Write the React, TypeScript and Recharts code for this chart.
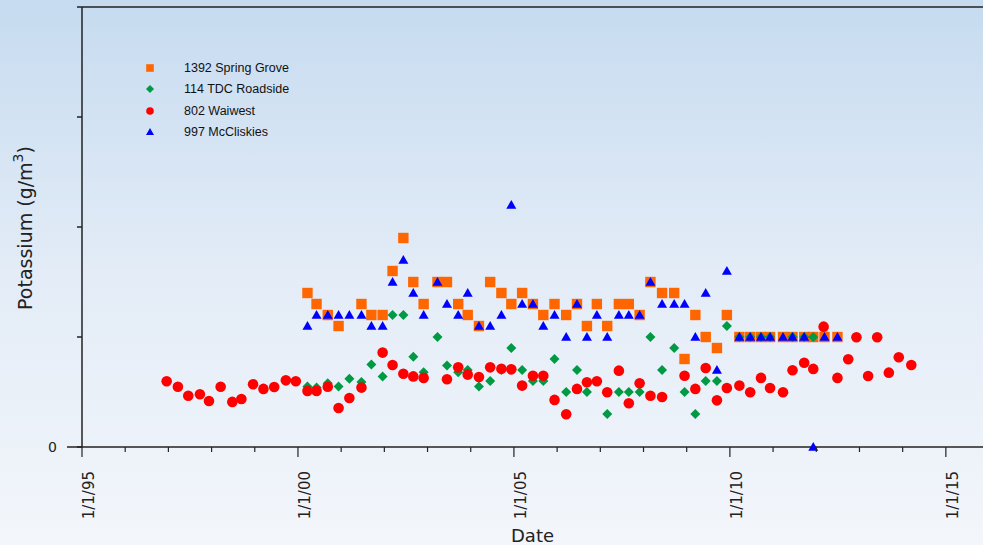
import { ScatterChart, Scatter, XAxis, YAxis, ReferenceLine } from "recharts";

// [decimal year, potassium g/m3]
const springGrove: [number, number][] = [
  [2000.22, 7.0], [2000.43, 6.5], [2000.69, 6.0], [2000.94, 5.5], [2001.47, 6.5],
  [2001.7, 6.0], [2001.96, 6.0], [2002.19, 8.0], [2002.44, 9.5], [2002.67, 7.5],
  [2002.91, 6.5], [2003.23, 7.5], [2003.45, 7.5], [2003.71, 6.5], [2003.93, 6.0],
  [2004.19, 5.5], [2004.45, 7.5], [2004.71, 7.0], [2004.94, 6.5], [2005.19, 7.0],
  [2005.44, 6.5], [2005.68, 6.0], [2005.94, 6.5], [2006.21, 6.0], [2006.46, 6.5],
  [2006.69, 5.5], [2006.92, 6.5], [2007.16, 5.5], [2007.43, 6.5], [2007.66, 6.5],
  [2007.91, 6.0], [2008.16, 7.5], [2008.43, 7.0], [2008.71, 7.0], [2008.95, 4.0],
  [2009.2, 6.0], [2009.44, 5.0], [2009.7, 4.5], [2009.93, 6.0], [2010.22, 5.0],
  [2010.47, 5.0], [2010.72, 5.0], [2010.93, 5.0], [2011.23, 5.0], [2011.45, 5.0],
  [2011.72, 5.0], [2011.93, 5.0], [2012.19, 5.0], [2012.49, 5.0],
];

const tdcRoadside: [number, number][] = [
  [2000.22, 2.75], [2000.43, 2.7], [2000.69, 2.9], [2000.94, 2.75], [2001.19, 3.1],
  [2001.47, 2.95], [2001.7, 3.75], [2001.96, 3.2], [2002.19, 6.0], [2002.44, 6.0],
  [2002.67, 4.1], [2002.91, 3.4], [2003.23, 5.0], [2003.45, 3.7], [2003.71, 3.4],
  [2003.93, 3.5], [2004.19, 2.75], [2004.45, 3.0], [2004.71, 3.5], [2004.94, 4.5],
  [2005.19, 3.5], [2005.44, 3.0], [2005.68, 3.0], [2005.94, 4.0], [2006.21, 2.5],
  [2006.46, 3.5], [2006.69, 2.5], [2007.16, 1.5], [2007.43, 2.5], [2007.66, 2.5],
  [2007.91, 2.5], [2008.16, 5.0], [2008.43, 3.5], [2008.71, 4.5], [2008.95, 2.5],
  [2009.2, 1.5], [2009.44, 3.0], [2009.7, 3.0], [2009.93, 5.5], [2010.22, 5.0],
  [2010.47, 5.0], [2010.72, 5.0], [2010.93, 5.0], [2011.45, 5.0], [2011.72, 5.0],
  [2011.93, 5.0],
];

const waiwest: [number, number][] = [
  [1996.96, 2.99], [1997.22, 2.74], [1997.46, 2.33], [1997.73, 2.4], [1997.94, 2.09],
  [1998.21, 2.74], [1998.48, 2.05], [1998.69, 2.18], [1998.96, 2.85], [1999.2, 2.64],
  [1999.45, 2.73], [1999.72, 3.03], [1999.95, 2.99], [2000.22, 2.55], [2000.43, 2.55],
  [2000.69, 2.74], [2000.94, 1.77], [2001.19, 2.23], [2001.47, 2.7], [2001.96, 4.29],
  [2002.19, 3.73], [2002.44, 3.33], [2002.67, 3.21], [2002.91, 3.14], [2003.45, 3.08],
  [2003.71, 3.62], [2003.93, 3.29], [2004.19, 3.18], [2004.45, 3.62], [2004.71, 3.56],
  [2004.94, 3.53], [2005.19, 2.79], [2005.44, 3.24], [2005.68, 3.24], [2005.94, 2.14],
  [2006.21, 1.49], [2006.46, 2.64], [2006.69, 2.94], [2006.92, 2.99], [2007.16, 2.49],
  [2007.43, 3.47], [2007.66, 1.99], [2007.91, 2.9], [2008.16, 2.33], [2008.43, 2.27],
  [2008.95, 3.24], [2009.2, 2.64], [2009.44, 3.59], [2009.7, 2.12], [2009.93, 2.68],
  [2010.22, 2.79], [2010.47, 2.49], [2010.72, 3.14], [2010.93, 2.68], [2011.23, 2.49],
  [2011.45, 3.49], [2011.72, 3.83], [2011.93, 3.55], [2012.17, 5.47], [2012.49, 3.14],
  [2012.74, 3.99], [2012.93, 4.99], [2013.2, 3.23], [2013.41, 4.99], [2013.68, 3.38],
  [2013.91, 4.08], [2014.2, 3.73],
];

const mcCliskies: [number, number][] = [
  [2000.22, 5.5], [2000.43, 6.0], [2000.69, 6.0], [2000.94, 6.0], [2001.19, 6.0],
  [2001.47, 6.0], [2001.7, 5.5], [2001.96, 5.5], [2002.19, 7.5], [2002.44, 8.5],
  [2002.67, 7.0], [2002.91, 6.0], [2003.23, 7.5], [2003.45, 6.5], [2003.71, 6.0],
  [2003.93, 7.0], [2004.19, 5.5], [2004.45, 5.5], [2004.71, 6.0], [2004.94, 11.0],
  [2005.19, 6.5], [2005.44, 6.5], [2005.68, 5.5], [2005.94, 6.0], [2006.21, 5.0],
  [2006.46, 6.5], [2006.69, 5.0], [2006.92, 6.0], [2007.16, 5.0], [2007.43, 6.0],
  [2007.66, 6.0], [2007.91, 6.0], [2008.16, 7.5], [2008.43, 6.5], [2008.71, 6.5],
  [2008.95, 6.5], [2009.2, 5.0], [2009.44, 7.0], [2009.7, 3.5], [2009.93, 8.0],
  [2010.22, 5.0], [2010.47, 5.0], [2010.72, 5.0], [2010.93, 5.0], [2011.23, 5.0],
  [2011.45, 5.0], [2011.72, 5.0], [2011.93, 0], [2012.19, 5.0], [2012.49, 5.0],
];

const yearTicks = [
  1995, 1996, 1997, 1998, 1999, 2000, 2001, 2002, 2003, 2004, 2005,
  2006, 2007, 2008, 2009, 2010, 2011, 2012, 2013, 2014, 2015,
];
const yTicks = [0, 5, 10, 15, 20];

const toPoints = (rows: [number, number][]) => rows.map(([date, k]) => ({ date, k }));

const FONT = "'DejaVu Sans', Verdana, sans-serif";

const Square = ({ cx, cy, size = 5.2 }: any) => (
  <rect x={cx - size} y={cy - size} width={size * 2} height={size * 2} fill="#ff6600" />
);
const Diamond = ({ cx, cy, size = 5 }: any) => (
  <polygon
    points={`${cx},${cy - size} ${cx + size},${cy} ${cx},${cy + size} ${cx - size},${cy}`}
    fill="#009944"
  />
);
const Dot = ({ cx, cy, size = 5.3 }: any) => <circle cx={cx} cy={cy} r={size} fill="#ff0000" />;
const Tri = ({ cx, cy, size = 5 }: any) => (
  <polygon
    points={`${cx},${cy - size} ${cx + size},${cy + size * 0.75} ${cx - size},${cy + size * 0.75}`}
    fill="#0000ff"
  />
);

const series = [
  { name: "1392 Spring Grove", data: springGrove, Shape: Square, legendSize: 3.8 },
  { name: "114 TDC Roadside", data: tdcRoadside, Shape: Diamond, legendSize: 4 },
  { name: "802 Waiwest", data: waiwest, Shape: Dot, legendSize: 3.8 },
  { name: "997 McCliskies", data: mcCliskies, Shape: Tri, legendSize: 4 },
];

function DateTick({ x, y, payload }: any) {
  const yr = payload.value;
  const major = yr % 5 === 0;
  const lx = x + 7;
  const ly = y + 24;
  return (
    <g>
      <line x1={x} y1={y} x2={x} y2={y + (major ? 10 : 5)} stroke="#222" strokeWidth={1.2} />
      {major && (
        <text
          x={lx}
          y={ly}
          transform={`rotate(-90 ${lx} ${ly})`}
          textAnchor="end"
          dominantBaseline="central"
          fontSize={15}
          fontFamily={FONT}
          fill="#222"
        >
          {`1/1/${String(yr % 100).padStart(2, "0")}`}
        </text>
      )}
    </g>
  );
}

function KTick({ x, y, payload }: any) {
  // the zero tick carries the x-axis line a little past the y-axis
  return (
    <g>
      {payload.value === 0 && <line x1={x + 10} y1={y} x2={x + 25} y2={y} stroke="#222" strokeWidth={1.5} />}
      <text x={x} y={y} textAnchor="end" dominantBaseline="central" fontSize={14} fontFamily={FONT} fill="#222">
        {payload.value === 0 ? "0" : ""}
      </text>
    </g>
  );
}

const YTitle = () => (
  <text
    x={25}
    y={228}
    transform="rotate(-90 25 228)"
    textAnchor="middle"
    dominantBaseline="central"
    fontSize={19}
    fontFamily={FONT}
    fill="#222"
  >
    Potassium (g/m
    <tspan dy={-7} fontSize={14}>3</tspan>
    <tspan dy={7}>)</tspan>
  </text>
);

export default function App() {
  return (
    <div
      style={{
        position: "relative",
        width: 983,
        height: 545,
        background: "linear-gradient(to bottom, #c6dbf0 0%, #e3ecf7 50%, #f3f6fb 100%)",
        overflow: "hidden",
      }}
    >
      <style>{`body{margin:0}`}</style>
      <ScatterChart width={983} height={545} margin={{ top: 7, right: 0, bottom: 0, left: 22 }}>
        <XAxis
          type="number"
          dataKey="date"
          domain={[1995, 2015.86]}
          allowDataOverflow
          ticks={yearTicks}
          interval={0}
          tickSize={0}
          tickMargin={0}
          tickLine={false}
          tick={<DateTick />}
          height={98}
          stroke="#222"
          strokeWidth={1.5}
          label={{
            value: "Date",
            position: "insideBottom",
            offset: 3,
            fontSize: 18,
            fontFamily: FONT,
            fill: "#222",
          }}
        />
        <YAxis
          type="number"
          dataKey="k"
          domain={[0, 20]}
          ticks={yTicks}
          interval={0}
          width={60}
          tickSize={5}
          tickMargin={20}
          tick={<KTick />}
          stroke="#222"
          strokeWidth={1.5}
          label={{ content: () => <YTitle /> }}
        />
        <ReferenceLine y={20} stroke="#222" strokeWidth={1.5} />
        {series.map((s) => (
          <Scatter
            key={s.name}
            name={s.name}
            data={toPoints(s.data)}
            shape={(p: any) => <s.Shape cx={p.cx} cy={p.cy} />}
            isAnimationActive={false}
          />
        ))}
      </ScatterChart>
      <div style={{ position: "absolute", left: 140, top: 57 }}>
        {series.map((s) => (
          <div key={s.name} style={{ display: "flex", alignItems: "center", height: 21.5 }}>
            <svg width={20} height={20} style={{ marginRight: 24 }}>
              <s.Shape cx={10} cy={10} size={s.legendSize} />
            </svg>
            <span style={{ fontFamily: "'Liberation Sans', Arial, sans-serif", fontSize: 12.5, color: "#111" }}>
              {s.name}
            </span>
          </div>
        ))}
      </div>
    </div>
  );
}
